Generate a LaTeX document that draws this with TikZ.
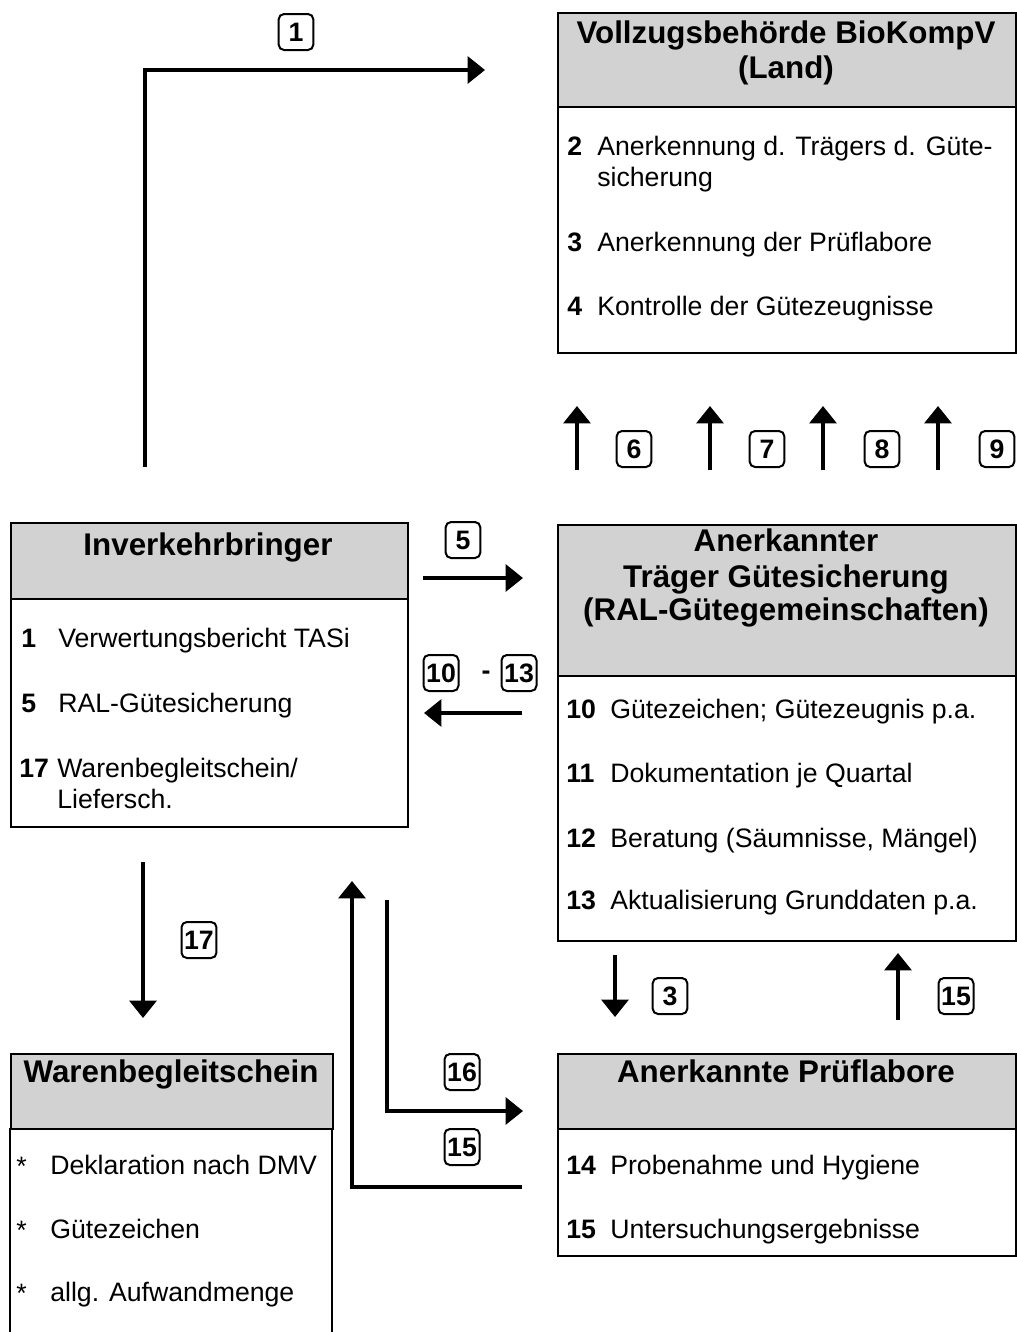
\documentclass[tikz,border=0pt]{standalone}
\usepackage{fontspec}
\setmainfont{Liberation Sans}
\usetikzlibrary{arrows.meta}
\begin{document}
\begin{tikzpicture}[x=0.75pt,y=-0.75pt,
  hdr/.style={draw, line width=1.5pt, fill=gray!35, anchor=north west, inner sep=0pt},
  bdy/.style={draw, line width=1.5pt, fill=white, anchor=north west, inner sep=0pt},
  ttl/.style={font=\bfseries\fontsize{23.5}{27}\selectfont, anchor=base, inner sep=0pt},
  txt/.style={font=\fontsize{20}{24}\selectfont, anchor=base west, inner sep=0pt},
  num/.style={font=\bfseries\fontsize{20}{24}\selectfont, anchor=base west, inner sep=0pt},
  lab/.style={draw, line width=1.5pt, rounded corners=4pt, font=\bfseries\fontsize{20}{20}\selectfont, minimum width=26pt, minimum height=27pt, inner xsep=2pt, inner ysep=0pt},
  arr/.style={line width=3pt, -{Triangle[length=13pt,width=20pt]}},
  plain/.style={line width=1.5pt}
]
\useasboundingbox (0,0) rectangle (1017,1332);

% ---------- Vollzugsbehoerde ----------
\node[hdr, minimum width=343.5pt, minimum height=70.5pt] (vbh) at (557,12) {};
\node[bdy, minimum width=343.5pt, minimum height=184.5pt] (vbb) at (557,106) {};
\node[ttl] (vbt1) at (786,43) {Vollzugsbehörde\ BioKompV};
\node[ttl] (vbt2) at (786,78) {(Land)};
\node[num] (vbn2) at (567,155) {2};
\node[txt] (vbx2) at (597,155) {Anerkennung d. Trägers d. Güte-};
\node[txt] (vbx2b) at (597,186) {sicherung};
\node[num] (vbn3) at (567,251) {3};
\node[txt] (vbx3) at (597,251) {Anerkennung der Prüflabore};
\node[num] (vbn4) at (567,315) {4};
\node[txt] (vbx4) at (597,315) {Kontrolle der Gütezeugnisse};

% ---------- Inverkehrbringer ----------
\node[hdr, minimum width=297.75pt, minimum height=57pt] (ivh) at (10,522) {};
\node[bdy, minimum width=297.75pt, minimum height=171pt] (ivb) at (10,598) {};
\node[ttl] (ivt) at (208,555) {Inverkehrbringer};
\node[num] (ivn1) at (21,647) {1};
\node[txt] (ivx1) at (58,647) {Verwertungsbericht TASi};
\node[num] (ivn5) at (21,712) {5};
\node[txt] (ivx5) at (58,712) {RAL-Gütesicherung};
\node[num] (ivn17) at (19,777) {17};
\node[txt] (ivx17) at (57,777) {Warenbegleitschein/};
\node[txt] (ivx17b) at (57,808) {Liefersch.};

% ---------- Anerkannter Traeger ----------
\node[hdr, minimum width=343.5pt, minimum height=113.25pt] (ath) at (557,524) {};
\node[bdy, minimum width=343.5pt, minimum height=198.75pt] (atb) at (557,675) {};
\node[ttl] (att1) at (786,551) {Anerkannter};
\node[ttl] (att2) at (786,587) {Träger Gütesicherung};
\node[ttl] (att3) at (786,620) {(RAL-Gütegemeinschaften)};
\node[num] (atn10) at (566,718) {10};
\node[txt] (atx10) at (610,718) {Gütezeichen; Gütezeugnis p.a.};
\node[num] (atn11) at (566,782) {11};
\node[txt] (atx11) at (610,782) {Dokumentation je Quartal};
\node[num] (atn12) at (566,847) {12};
\node[txt] (atx12) at (610,847) {Beratung (Säumnisse, Mängel)};
\node[num] (atn13) at (566,909) {13};
\node[txt] (atx13) at (610,909) {Aktualisierung Grunddaten p.a.};

% ---------- Warenbegleitschein ----------
\node[hdr, minimum width=241.5pt, minimum height=56.25pt] (wbh) at (10,1053) {};
\coordinate (wbl) at (10,1128);
\coordinate (wbr) at (332,1128);
\coordinate (wblb) at (10,1332);
\coordinate (wbrb) at (332,1332);
\draw[plain] (wbl) -- (wblb);
\draw[plain] (wbr) -- (wbrb);
\node[ttl] (wbt) at (171,1082) {Warenbegleitschein};
\node[txt] (wbs1) at (16,1175) {*};
\node[txt] (wbx1) at (50,1174) {Deklaration nach DMV};
\node[txt] (wbs2) at (16,1239) {*};
\node[txt] (wbx2) at (50,1238) {Gütezeichen};
\node[txt] (wbs3) at (16,1302) {*};
\node[txt] (wbx3) at (50,1301) {allg. Aufwandmenge};

% ---------- Anerkannte Prueflabore ----------
\node[hdr, minimum width=343.5pt, minimum height=56.25pt] (aph) at (557,1053) {};
\node[bdy, minimum width=343.5pt, minimum height=95.25pt] (apb) at (557,1128) {};
\node[ttl] (apt) at (786,1082) {Anerkannte Prüflabore};
\node[num] (apn14) at (566,1174) {14};
\node[txt] (apx14) at (610,1174) {Probenahme und Hygiene};
\node[num] (apn15) at (566,1238) {15};
\node[txt] (apx15) at (610,1238) {Untersuchungsergebnisse};

% ---------- connectors ----------
\coordinate (a1s) at (145,467);
\coordinate (a1e) at (485,70);
\draw[arr] (a1s) |- (a1e);
\node[lab] (l1) at (296,32) {1};

\foreach \xx/\lx/\nn in {577/634/6, 710/767/7, 823/882/8, 938/997/9}{
  \coordinate (u\nn s) at (\xx,470);
  \coordinate (u\nn e) at (\xx,406);
  \draw[arr] (u\nn s) -- (u\nn e);
  \node[lab] (l\nn) at (\lx,449) {\nn};
}

\coordinate (a5s) at (423,578);
\coordinate (a5e) at (523,578);
\draw[arr] (a5s) -- (a5e);
\node[lab] (l5) at (463,540) {5};

\coordinate (a10s) at (522,713);
\coordinate (a10e) at (424,713);
\draw[arr] (a10s) -- (a10e);
\node[lab] (l10) at (441,673) {10};
\node[font=\bfseries\fontsize{20}{20}\selectfont, inner sep=0pt] (ldash) at (486,675) {-};
\node[lab] (l13) at (519,673) {13};

\coordinate (a17s) at (143,862);
\coordinate (a17e) at (143,1018);
\draw[arr] (a17s) -- (a17e);
\node[lab] (l17) at (199,940) {17};

\coordinate (a15s) at (522,1187);
\coordinate (a15e) at (352,881);
\draw[arr] (a15s) -| (a15e);
\node[lab] (l15a) at (462,1147) {15};

\coordinate (a16s) at (387,900);
\coordinate (a16e) at (523,1111);
\draw[arr] (a16s) |- (a16e);
\node[lab] (l16) at (462,1072) {16};

\coordinate (a3s) at (615,955);
\coordinate (a3e) at (615,1017);
\draw[arr] (a3s) -- (a3e);
\node[lab] (l3) at (670,996) {3};

\coordinate (a15bs) at (898,1020);
\coordinate (a15be) at (898,953);
\draw[arr] (a15bs) -- (a15be);
\node[lab] (l15b) at (956,996) {15};

\end{tikzpicture}
\end{document}
